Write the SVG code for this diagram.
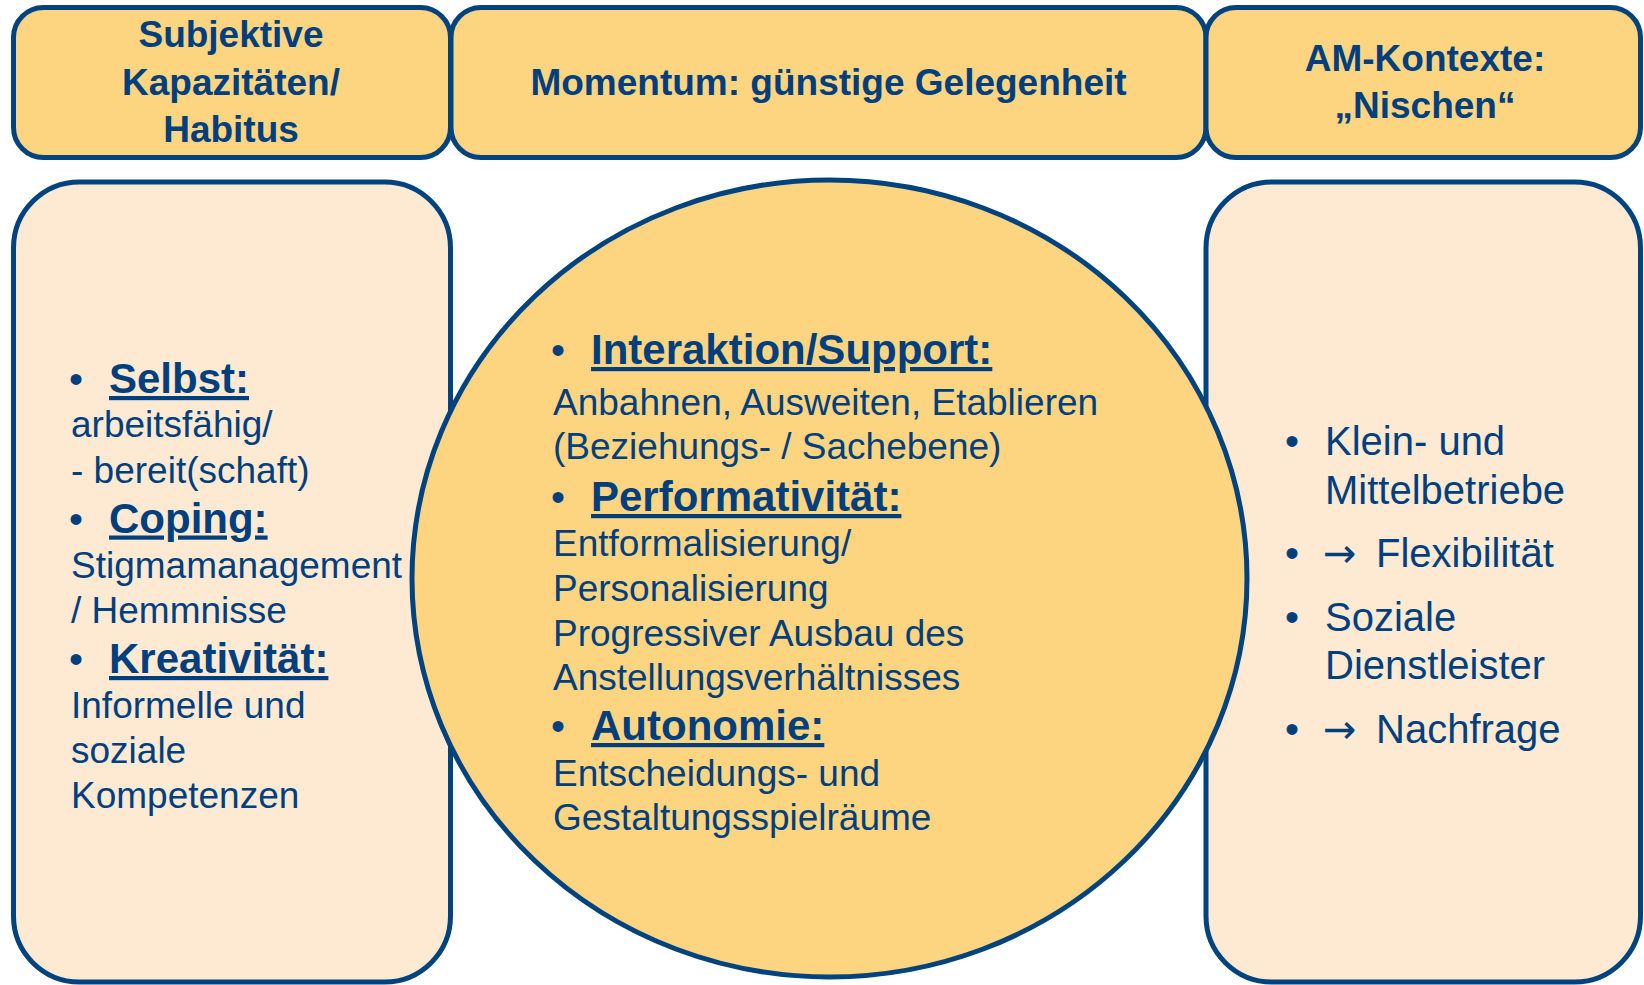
<svg xmlns="http://www.w3.org/2000/svg" width="1644" height="985" viewBox="0 0 1644 985">
<style>
.hdr{fill:#FDD480;stroke:#00437F;stroke-width:5}
.box{fill:#FEEAD2;stroke:#00437F;stroke-width:5}
.circ{fill:#FDD480;stroke:#00437F;stroke-width:5}
text{font-family:"Liberation Sans",Arial,sans-serif;fill:#003F7E}
.ht{font-size:37px;font-weight:bold;text-anchor:middle}
.b{font-size:37px}
.r{font-size:40px}
.h{font-size:42px;font-weight:bold;text-decoration:underline}
.bul{font-size:40px}
.arr{font-family:"DejaVu Sans",sans-serif;font-size:40px}
</style>
<rect width="1644" height="985" fill="#FFFFFF"/>
<g id="connectors"></g>
<g id="header-left">
<rect class="hdr" x="13.5" y="7.5" width="437" height="150" rx="30"/>
<text class="ht"><tspan x="231" y="47">Subjektive</tspan><tspan x="231" y="95">Kapazitäten/</tspan><tspan x="231" y="142">Habitus</tspan></text>
</g>
<g id="header-middle">
<rect class="hdr" x="451" y="7.5" width="755" height="150" rx="30"/>
<text class="ht" x="828.5" y="95">Momentum: günstige Gelegenheit</text>
</g>
<g id="header-right">
<rect class="hdr" x="1206" y="7.5" width="434.5" height="150" rx="30"/>
<text class="ht"><tspan x="1425" y="71">AM-Kontexte:</tspan><tspan x="1425" y="118">„Nischen“</tspan></text>
</g>
<g id="box-left">
<rect class="box" x="13.5" y="182" width="437" height="800" rx="66"/>
</g>
<g id="box-right">
<rect class="box" x="1206" y="182" width="434.5" height="800" rx="66"/>
</g>
<g id="circle-center">
<ellipse class="circ" cx="829.5" cy="578.5" rx="417.5" ry="398.5"/>
</g>
<g id="text-left">
<text class="bul" x="69" y="393">•</text>
<text class="h" x="109" y="393">Selbst:</text>
<text class="b" x="71" y="437">arbeitsfähig/</text>
<text class="b" x="71" y="482.5">- bereit(schaft)</text>
<text class="bul" x="69" y="532.5">•</text>
<text class="h" x="109" y="532.5">Coping:</text>
<text class="b" x="71" y="578">Stigmamanagement</text>
<text class="b" x="71" y="623">/ Hemmnisse</text>
<text class="bul" x="69" y="673">•</text>
<text class="h" x="109" y="673">Kreativität:</text>
<text class="b" x="71" y="718">Informelle und</text>
<text class="b" x="71" y="763">soziale</text>
<text class="b" x="71" y="808">Kompetenzen</text>
</g>
<g id="text-center">
<text class="bul" x="551" y="364">•</text>
<text class="h" x="591" y="364">Interaktion/Support:</text>
<text class="b" x="553" y="415">Anbahnen, Ausweiten, Etablieren</text>
<text class="b" x="553" y="459">(Beziehungs- / Sachebene)</text>
<text class="bul" x="551" y="511">•</text>
<text class="h" x="591" y="511">Performativität:</text>
<text class="b" x="553" y="556">Entformalisierung/</text>
<text class="b" x="553" y="601">Personalisierung</text>
<text class="b" x="553" y="646">Progressiver Ausbau des</text>
<text class="b" x="553" y="689.5">Anstellungsverhältnisses</text>
<text class="bul" x="551" y="740">•</text>
<text class="h" x="591" y="740">Autonomie:</text>
<text class="b" x="553" y="786">Entscheidungs- und</text>
<text class="b" x="553" y="829.5">Gestaltungsspielräume</text>
</g>
<g id="text-right">
<text class="bul" x="1285" y="455">•</text>
<text class="r" x="1325" y="455">Klein- und</text>
<text class="r" x="1325" y="503.5">Mittelbetriebe</text>
<text class="bul" x="1285" y="567">•</text>
<text class="r" y="567"><tspan class="arr" x="1323">→</tspan><tspan x="1376">Flexibilität</tspan></text>
<text class="bul" x="1285" y="631">•</text>
<text class="r" x="1325" y="631">Soziale</text>
<text class="r" x="1325" y="678.5">Dienstleister</text>
<text class="bul" x="1285" y="743">•</text>
<text class="r" y="743"><tspan class="arr" x="1323">→</tspan><tspan x="1376">Nachfrage</tspan></text>
</g>
</svg>
